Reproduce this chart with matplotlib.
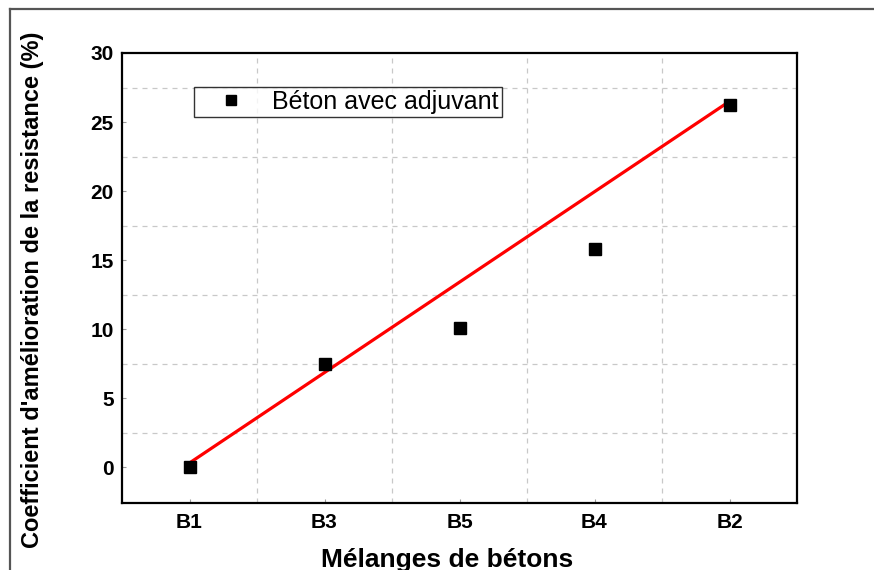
import numpy as np
import matplotlib
matplotlib.use("Agg")
import matplotlib.pyplot as plt
from matplotlib.lines import Line2D
from matplotlib.ticker import MultipleLocator, FixedLocator

plt.rcParams['font.family'] = ['Liberation Sans', 'DejaVu Sans']

# data
melanges = ['B1', 'B3', 'B5', 'B4', 'B2']
coef = [0.0, 7.5, 10.1, 15.8, 26.2]
# red trend line, value at first and last mix
trend_ends = [0.3, 26.5]

fig = plt.figure(figsize=(8.74, 5.70), dpi=100)
ax = fig.add_axes([122 / 874, 67 / 570, 675 / 874, 450 / 570])

x = np.arange(len(melanges))
ax.plot([x[0], x[-1]], trend_ends, color='#ff0000', lw=2.3, zorder=3)
ax.plot(x, coef, ls='none', marker='s', ms=8, color='black',
        label='Béton avec adjuvant', zorder=4)

ax.set_xlim(-0.5, 4.5)
ax.set_ylim(-2.6, 30)
ax.set_xticks(x)
ax.set_xticklabels(melanges)
ax.xaxis.set_minor_locator(FixedLocator(x[:-1] + 0.5))
ax.yaxis.set_major_locator(MultipleLocator(5))
ax.yaxis.set_minor_locator(FixedLocator(np.arange(2.5, 30, 5)))
ax.grid(which='minor', color='#c8c8c8', ls=(0, (4, 4)), lw=0.9)
ax.tick_params(which='major', direction='in', length=3, color='#999999',
               labelsize=15)
ax.tick_params(axis='x', pad=7)
ax.tick_params(axis='y', pad=6)
ax.tick_params(which='minor', length=0)
for lab in ax.get_xticklabels() + ax.get_yticklabels():
    lab.set_fontweight('bold')
for sp in ax.spines.values():
    sp.set_linewidth(1.6)

# the x label is cut at the bottom edge in the original as well
ax.set_xlabel('Mélanges de bétons', fontsize=19, fontweight='bold')
ax.xaxis.set_label_coords(0.481, -0.1)
ax.set_ylabel("Coefficient d'amélioration de la resistance (%)",
              fontsize=17, fontweight='bold')
ax.yaxis.set_label_coords(-0.115, 0.473)

leg = ax.legend(loc='upper left', bbox_to_anchor=(72 / 675, 416 / 450),
                borderaxespad=0, fontsize=18, frameon=True, fancybox=False,
                borderpad=0.12, handletextpad=0.3, handlelength=2.7,
                markerscale=0.9)
leg.get_frame().set_edgecolor('black')
leg.get_frame().set_linewidth(1.0)

# outer frame of the original picture (top and left edge)
fig.add_artist(Line2D([10 / 874, 10 / 874], [0, 1 - 8.5 / 570],
                      transform=fig.transFigure, color='#555555', lw=1.6))
fig.add_artist(Line2D([10 / 874, 1], [1 - 8.5 / 570, 1 - 8.5 / 570],
                      transform=fig.transFigure, color='#555555', lw=1.6))

fig.savefig('out.png', dpi=100)
